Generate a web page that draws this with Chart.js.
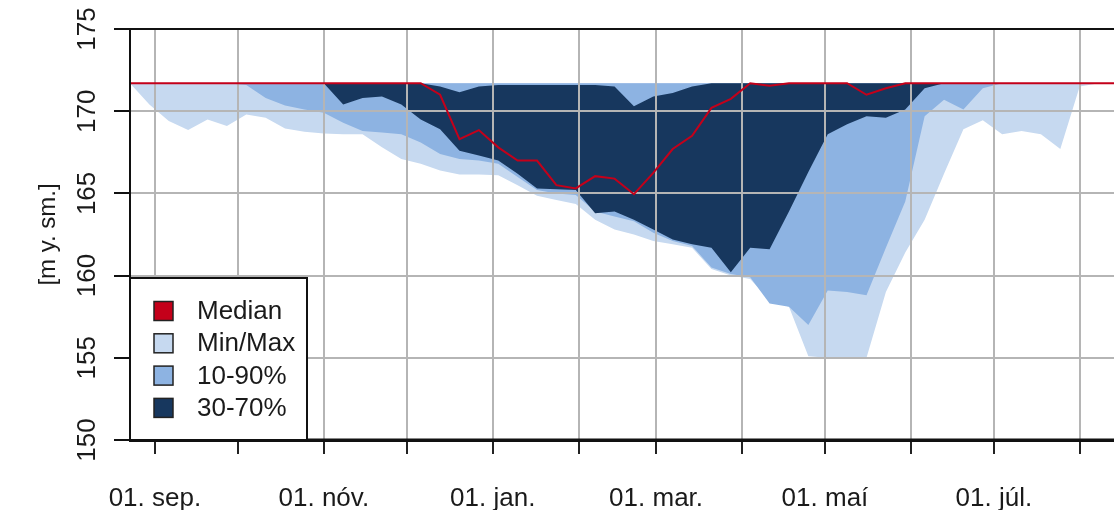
<!DOCTYPE html>
<html>
<head>
<meta charset="utf-8">
<script src="https://cdn.jsdelivr.net/npm/chart.js@4.4.1/dist/chart.umd.min.js"></script>
<style>
  html, body { margin: 0; padding: 0; background: #fff; overflow: hidden; }
  #wrap { width: 1114px; height: 510px; overflow: hidden; }
</style>
</head>
<body>
<div id="wrap"><canvas id="level" width="1130" height="510"></canvas></div>
<script>
// vikudagar (dagar frá 1. sep.)
var weekDays = [-9, -2, 5, 12, 19, 26, 33, 40, 47, 54, 61, 68, 75, 82, 89, 96, 103, 110, 117, 124,
    131, 138, 145, 152, 159, 166, 173, 180, 187, 194, 201, 208, 215, 222, 229, 236, 243, 250, 257,
    264, 271, 278, 285, 292, 299, 306, 313, 320, 327, 334, 341, 348];

var median = [171.7, 171.7, 171.7, 171.7, 171.7, 171.7, 171.7, 171.7, 171.7, 171.7, 171.7, 171.7,
    171.7, 171.7, 171.7, 171.7, 171.0, 168.3, 168.85, 167.8, 167.0, 167.0, 165.5, 165.3, 166.05,
    165.9, 164.95, 166.25, 167.7, 168.5, 170.2, 170.75, 171.7, 171.55, 171.7, 171.7, 171.7, 171.7,
    171.0, 171.4, 171.7, 171.7, 171.7, 171.7, 171.7, 171.7, 171.7, 171.7, 171.7, 171.7, 171.7, 171.7];

var maxV = [171.7, 171.7, 171.7, 171.7, 171.7, 171.7, 171.7, 171.7, 171.7, 171.7, 171.7, 171.7,
    171.7, 171.7, 171.7, 171.7, 171.7, 171.7, 171.7, 171.7, 171.7, 171.7, 171.7, 171.7, 171.7,
    171.7, 171.7, 171.7, 171.7, 171.7, 171.7, 171.7, 171.7, 171.7, 171.7, 171.7, 171.7, 171.7,
    171.7, 171.7, 171.7, 171.7, 171.7, 171.7, 171.7, 171.7, 171.7, 171.7, 171.7, 171.7, 171.7, 171.7];

var minV = [171.7, 170.4, 169.4, 168.85, 169.5, 169.1, 169.8, 169.6, 168.95, 168.75, 168.65, 168.6,
    168.6, 167.8, 167.1, 166.8, 166.4, 166.15, 166.15, 166.1, 165.5, 164.85, 164.6, 164.35, 163.4,
    162.8, 162.5, 162.1, 161.9, 161.7, 160.4, 160.0, 159.8, 158.5, 158.1, 155.1, 155.0, 155.0,
    155.0, 159.0, 161.4, 163.4, 166.2, 168.9, 169.45, 168.6, 168.8, 168.6, 167.7, 171.5, 171.7, 171.7];

var p90 = [171.7, 171.7, 171.7, 171.7, 171.7, 171.7, 171.7, 171.7, 171.7, 171.7, 171.7, 171.7,
    171.7, 171.7, 171.7, 171.7, 171.7, 171.7, 171.7, 171.7, 171.7, 171.7, 171.7, 171.7, 171.7,
    171.7, 171.7, 171.7, 171.7, 171.7, 171.7, 171.7, 171.7, 171.7, 171.7, 171.7, 171.7, 171.7,
    171.7, 171.7, 171.7, 171.7, 171.7, 171.7, 171.7, 171.7, 171.7, 171.7, 171.7, 171.7, 171.7, 171.7];

var p10 = [171.7, 171.7, 171.7, 171.7, 171.7, 171.7, 171.6, 170.8, 170.35, 170.1, 169.9, 169.3,
    168.8, 168.7, 168.6, 168.1, 167.4, 167.1, 167.0, 166.8, 166.0, 165.2, 165.0, 164.9, 163.9,
    163.6, 163.3, 162.6, 162.1, 161.8, 160.5, 160.1, 159.9, 158.3, 158.1, 157.0, 159.1, 159.0,
    158.8, 161.7, 164.5, 169.7, 170.7, 170.1, 171.4, 171.7, 171.7, 171.7, 171.7, 171.7, 171.7, 171.7];

var p70 = [171.7, 171.7, 171.7, 171.7, 171.7, 171.7, 171.7, 171.7, 171.7, 171.7, 171.7, 171.7,
    171.7, 171.7, 171.7, 171.7, 171.5, 171.15, 171.5, 171.6, 171.6, 171.6, 171.6, 171.6, 171.6,
    171.5, 170.3, 170.9, 171.1, 171.5, 171.7, 171.7, 171.7, 171.7, 171.7, 171.7, 171.7, 171.7,
    171.7, 171.7, 171.7, 171.7, 171.7, 171.7, 171.7, 171.7, 171.7, 171.7, 171.7, 171.7, 171.7, 171.7];

var p30 = [171.7, 171.7, 171.7, 171.7, 171.7, 171.7, 171.7, 171.7, 171.7, 171.7, 171.7, 170.4,
    170.8, 170.9, 170.4, 169.5, 168.9, 167.6, 167.3, 167.0, 166.2, 165.3, 165.25, 165.2, 163.8,
    163.9, 163.4, 162.8, 162.2, 161.9, 161.7, 160.2, 161.7, 161.6, 163.9, 166.3, 168.6, 169.2,
    169.7, 169.6, 170.1, 171.4, 171.7, 171.7, 171.7, 171.7, 171.7, 171.7, 171.7, 171.7, 171.7, 171.7];

// mánaðamót og merkingar á x-ás
var monthDays = [0, 30, 61, 91, 122, 153, 181, 212, 242, 273, 303, 334];
var monthLabels = ['01. sep.', '', '01. nóv.', '', '01. jan.', '', '01. mar.', '', '01. maí', '', '01. júl.', ''];

var yTicks = [150, 155, 160, 165, 170, 175];

var FONT = "'Liberation Sans', Arial, Helvetica, sans-serif";
var LIGHT = '#c6d9f0', MID = '#8db3e2', DARK = '#17375e', RED = '#c4001a';

function pts(vals) {
    return vals.map(function (v, i) { return { x: weekDays[i], y: v }; });
}

function band(label, vals, color, target, order) {
    return {
        label: label,
        data: pts(vals),
        borderWidth: 0,
        pointRadius: 0,
        backgroundColor: color,
        borderColor: color,
        fill: target,
        order: order
    };
}

var datasets = [
    { label: 'Median', data: pts(median), borderColor: RED, backgroundColor: RED,
      borderWidth: 2, pointRadius: 0, fill: false, order: 0 },
    band('Min/Max', maxV, LIGHT, 2, 3),
    band('', minV, LIGHT, false, 3),
    band('10-90%', p90, MID, 4, 2),
    band('', p10, MID, false, 2),
    band('30-70%', p70, DARK, 6, 1),
    band('', p30, DARK, false, 1)
];

// rist ofan á flötum, rammi, y-merkingar og skýringar
var overlay = {
    id: 'overlay',
    beforeDatasetDraw: function (chart, args) {
        if (args.index !== 0) return;
        var ctx = chart.ctx, a = chart.chartArea;
        var sx = chart.scales.x, sy = chart.scales.y;
        ctx.save();
        ctx.strokeStyle = '#b5b5b5';
        ctx.lineWidth = 2;
        ctx.beginPath();
        monthDays.forEach(function (d) {
            var x = Math.round(sx.getPixelForValue(d));
            ctx.moveTo(x, a.top); ctx.lineTo(x, a.bottom);
        });
        yTicks.forEach(function (v) {
            var y = Math.round(sy.getPixelForValue(v));
            ctx.moveTo(a.left, y); ctx.lineTo(a.right, y);
        });
        ctx.stroke();
        ctx.restore();
    },
    afterDraw: function (chart) {
        var ctx = chart.ctx, a = chart.chartArea;
        var sy = chart.scales.y;
        ctx.save();
        // rammi
        ctx.strokeStyle = '#111';
        ctx.lineWidth = 2;
        ctx.beginPath();
        ctx.moveTo(a.left, a.bottom); ctx.lineTo(a.left, a.top); ctx.lineTo(a.right, a.top);
        ctx.stroke();
        ctx.lineWidth = 3;
        ctx.beginPath();
        ctx.moveTo(a.left, a.bottom); ctx.lineTo(a.right, a.bottom);
        ctx.stroke();

        // y-merkingar, snúnar
        ctx.fillStyle = '#1a1a1a';
        ctx.font = '26px ' + FONT;
        ctx.textAlign = 'center';
        ctx.textBaseline = 'middle';
        yTicks.forEach(function (v) {
            ctx.save();
            ctx.translate(88, sy.getPixelForValue(v));
            ctx.rotate(-Math.PI / 2);
            ctx.fillText(String(v), 0, 0);
            ctx.restore();
        });

        // skýringar
        var bx = a.left, bw = 177, bh = 162, by = a.bottom - bh;
        ctx.fillStyle = '#fff';
        ctx.fillRect(bx, by, bw, bh);
        ctx.strokeStyle = '#111';
        ctx.lineWidth = 2;
        ctx.strokeRect(bx, by, bw, bh);
        var items = chart.data.datasets.filter(function (ds) { return ds.label; });
        ctx.textAlign = 'left';
        ctx.font = '26px ' + FONT;
        items.forEach(function (ds, i) {
            var cy = by + 33 + i * 32.3;
            ctx.fillStyle = ds.backgroundColor;
            ctx.fillRect(bx + 24, cy - 9.5, 19, 19);
            ctx.strokeStyle = '#222';
            ctx.lineWidth = 1.5;
            ctx.strokeRect(bx + 24, cy - 9.5, 19, 19);
            ctx.fillStyle = '#1a1a1a';
            ctx.fillText(ds.label, bx + 67, cy + 1);
        });
        ctx.restore();
    }
};

var ctx = document.getElementById('level').getContext('2d');
var levelChart = new Chart(ctx, {
    type: 'line',
    data: { datasets: datasets },
    options: {
        responsive: false,
        animation: false,
        layout: { padding: { top: 29, right: 6, left: 0, bottom: 0 } },
        elements: { line: { tension: 0 }, point: { radius: 0 } },
        plugins: {
            legend: { display: false },
            tooltip: { enabled: false },
            filler: { propagate: false }
        },
        scales: {
            x: {
                type: 'linear',
                min: -9,
                max: 350,
                afterBuildTicks: function (scale) {
                    scale.ticks = monthDays.map(function (d) { return { value: d }; });
                },
                afterFit: function (scale) { scale.height = 70; },
                ticks: {
                    autoSkip: false,
                    maxRotation: 0,
                    padding: 29,
                    color: '#1a1a1a',
                    font: { family: FONT, size: 26 },
                    callback: function (v, i) { return monthLabels[i]; }
                },
                grid: { color: '#b5b5b5', lineWidth: 2, tickColor: '#222', tickLength: 14, tickWidth: 2 },
                border: { color: '#111', width: 3 }
            },
            y: {
                min: 150,
                max: 175,
                afterBuildTicks: function (scale) {
                    scale.ticks = yTicks.map(function (v) { return { value: v }; });
                },
                afterFit: function (scale) { scale.width = 130; },
                ticks: { display: false },
                grid: { color: '#b5b5b5', lineWidth: 2, tickColor: '#111', tickLength: 16, tickWidth: 2 },
                border: { color: '#111', width: 2 },
                title: {
                    display: true,
                    text: '[m y. sm.]',
                    color: '#1a1a1a',
                    font: { family: FONT, size: 24 },
                    padding: { top: 34, bottom: 0 }
                }
            }
        }
    },
    plugins: [overlay]
});
</script>
</body>
</html>
